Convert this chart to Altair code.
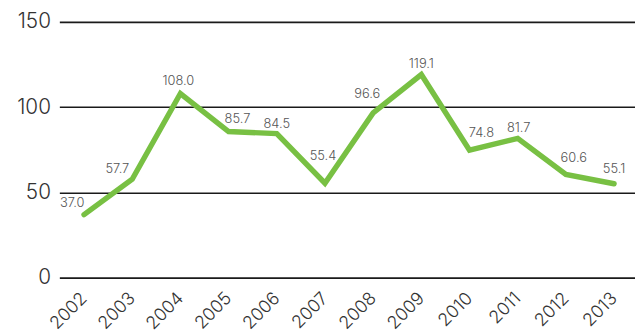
import altair as alt
import pandas as pd

years = ["2002", "2003", "2004", "2005", "2006", "2007", "2008", "2009", "2010", "2011", "2012", "2013"]
values = [37.0, 57.7, 108.0, 85.7, 84.5, 55.4, 96.6, 119.1, 74.8, 81.7, 60.6, 55.1]
y_ticks = [0, 50, 100, 150]

# label nudges (dx, dy) in pixels, styling only
label_offsets = {
    "2002": (-12, -8), "2003": (-15, -6), "2004": (-2, -9), "2005": (9, -9),
    "2006": (0, -6), "2007": (-2, -24), "2008": (-6, -15), "2009": (0, -7),
    "2010": (12, -13), "2011": (1, -6), "2012": (8, -12), "2013": (0, -11),
}

df = pd.DataFrame({"year": years, "value": values})
df["label"] = [f"{v:.1f}" for v in values]

FONT = "Inter"

x_scale = alt.Scale(type="point", padding=0.4735, align=0.541)

x_enc = alt.X("year:N", sort=years, scale=x_scale,
              axis=alt.Axis(title=None, labelAngle=-45, labelAlign="right", labelBaseline="middle",
                            labelFontSize=18, labelFont=FONT, labelFontWeight=300, labelColor="#333333",
                            ticks=False, domain=False, grid=False, labelPadding=18, labelOffset=0))
y_enc = alt.Y("value:Q", scale=alt.Scale(domain=[0, 150], nice=False, zero=True),
              axis=alt.Axis(title=None, values=y_ticks, labelFontSize=21, labelFont=FONT, labelFontWeight=300,
                            labelColor="#333333", ticks=False, domain=False, grid=True,
                            gridColor="#1a1a1a", gridWidth=1.6, gridOpacity=1, labelPadding=9))

base = alt.Chart(df)

line = base.mark_line(color="#78c043", strokeWidth=5.5, strokeCap="round", strokeJoin="miter").encode(x=x_enc, y=y_enc)

texts = []
for yr in years:
    dx, dy = label_offsets[yr]
    texts.append(
        base.transform_filter(f"datum.year == '{yr}'").mark_text(
            font=FONT, fontSize=13, fontWeight=300, color="#555555",
            baseline="alphabetic", align="center", dx=dx, dy=dy
        ).encode(x=alt.X("year:N", sort=years, scale=x_scale), y="value:Q", text="label:N")
    )

chart = alt.layer(line, *texts).properties(
    width=583, height=259,
    background="white",
    autosize=alt.AutoSizeParams(type="none"),
    padding={"left": 52, "top": 12, "right": 0, "bottom": 57},
).configure_view(stroke=None)

chart.save("out.html", embed_options={"renderer": "svg", "actions": False})
